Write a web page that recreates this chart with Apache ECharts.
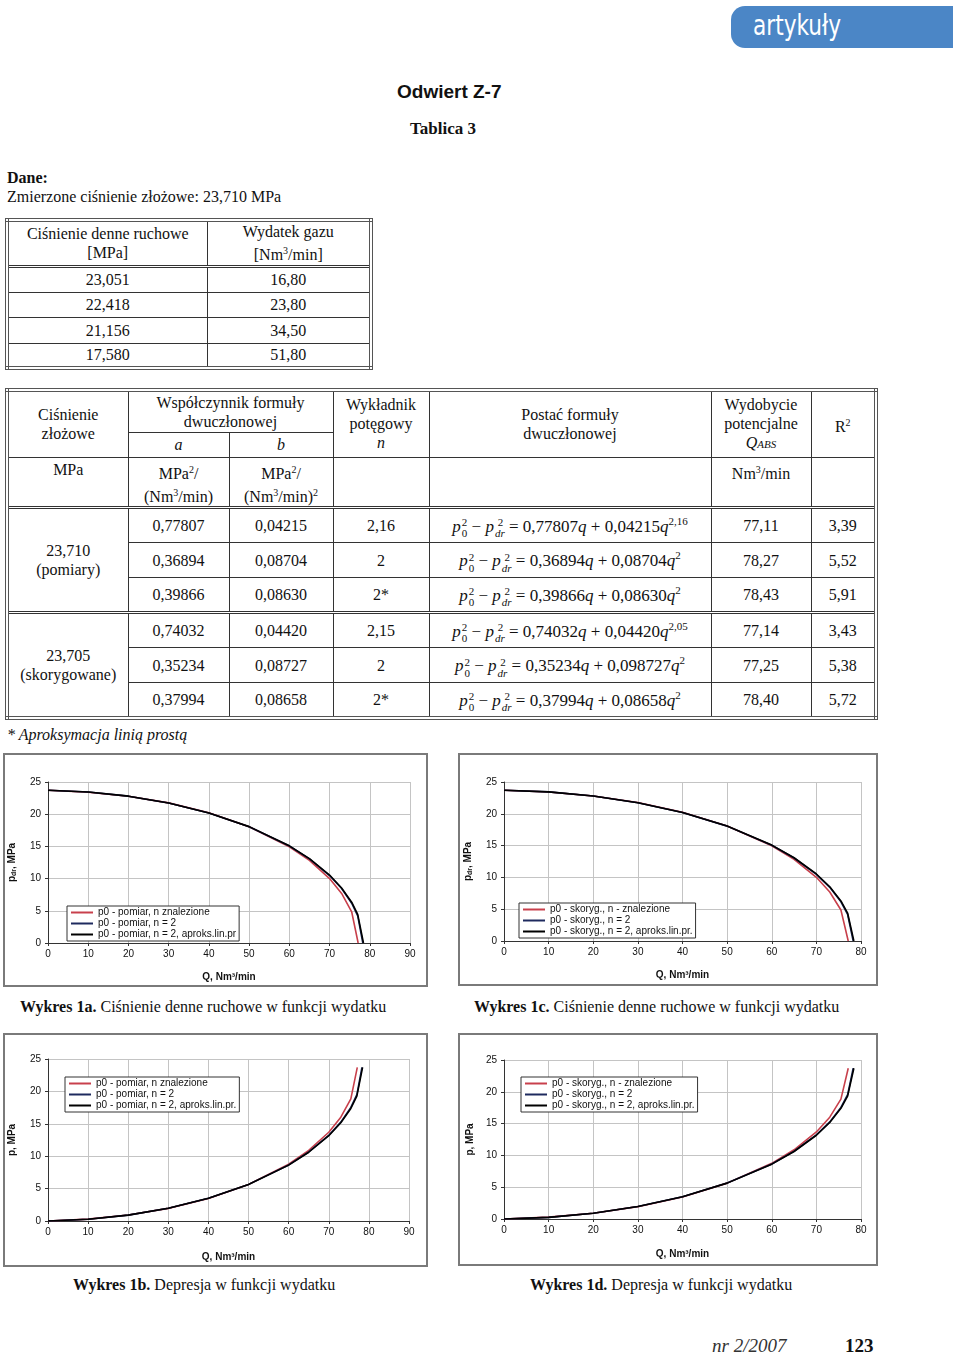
<!DOCTYPE html>
<html>
<head>
<meta charset="utf-8">
<script src="https://cdn.jsdelivr.net/npm/echarts@6/dist/echarts.min.js"></script>
<style>
html,body{margin:0;padding:0;background:#fff;}
body{width:960px;height:1358px;position:relative;overflow:hidden;font-family:'Liberation Serif','Times New Roman',serif;color:#111;}
.abs{position:absolute;}
#tab{left:731px;top:6px;width:200px;height:42px;padding-left:22px;background:#4b86c6;border-radius:14px 0 0 14px;color:#fff;font-family:'Liberation Sans Narrow','DejaVu Sans Condensed','Liberation Sans',sans-serif;font-size:28px;line-height:40px;overflow:hidden;}
#tab span{display:inline-block;transform:scaleX(0.86);transform-origin:left center;font-weight:normal;}
#title{left:397px;top:81px;font-family:'Liberation Sans',Arial,sans-serif;font-weight:bold;font-size:19px;}
#tabl{left:410px;top:119px;font-weight:bold;font-size:17px;}
#dane{left:7px;top:169px;font-weight:bold;font-size:16px;}
#zm{left:7px;top:188px;font-size:16px;}
table{border-collapse:collapse;table-layout:fixed;font-size:16px;color:#111;}
td{border:1px solid #333;text-align:center;padding:0;line-height:19px;}
#t1{left:5px;top:218px;width:364px;border:4px double #555;}
#t2{left:5px;top:388px;width:869px;border:4px double #555;}
tr.sep td{border-top:3px double #333;}
.ss{display:inline-block;vertical-align:-6px;font-size:11px;line-height:11px;text-align:left;margin-left:1px;}
.ss span{display:block;}
.f{font-size:17px;}
#aprox{left:7px;top:726px;font-style:italic;font-size:16px;}
.cap{font-size:16px;}
.chart{position:absolute;}
#foot1{left:712px;top:1335px;font-style:italic;font-size:19px;color:#333;}
#foot2{left:845px;top:1335px;font-weight:bold;font-size:19px;}
</style>
</head>
<body>
<div id="tab" class="abs"><span>artykuły</span></div>
<div id="title" class="abs">Odwiert Z-7</div>
<div id="tabl" class="abs">Tablica 3</div>
<div id="dane" class="abs">Dane:</div>
<div id="zm" class="abs">Zmierzone ciśnienie złożowe: 23,710 MPa</div>

<table id="t1" class="abs">
<colgroup><col style="width:200px"><col style="width:164px"></colgroup>
<tr style="height:46px"><td>Ciśnienie denne ruchowe<br>[MPa]</td><td>Wydatek gazu<br>[Nm<sup style="font-size:10px">3</sup>/min]</td></tr>
<tr class="sep" style="height:26px"><td>23,051</td><td>16,80</td></tr>
<tr style="height:25px"><td>22,418</td><td>23,80</td></tr>
<tr style="height:26px"><td>21,156</td><td>34,50</td></tr>
<tr style="height:25px"><td>17,580</td><td>51,80</td></tr>
</table>

<table id="t2" class="abs">
<colgroup><col style="width:121px"><col style="width:101px"><col style="width:104px"><col style="width:96px"><col style="width:282px"><col style="width:100px"><col style="width:65px"></colgroup>
<tr style="height:42px">
<td rowspan="2">Ciśnienie<br>złożowe</td>
<td colspan="2">Współczynnik formuły<br>dwuczłonowej</td>
<td rowspan="2" style="vertical-align:top;padding-top:3px">Wykładnik<br>potęgowy<br><i>n</i></td>
<td rowspan="2">Postać formuły<br>dwuczłonowej</td>
<td rowspan="2" style="vertical-align:top;padding-top:3px">Wydobycie<br>potencjalne<br><i>Q<span style="font-size:11px">ABS</span></i></td>
<td rowspan="2">R<sup style="font-size:10px">2</sup></td>
</tr>
<tr style="height:25px"><td><i>a</i></td><td><i>b</i></td></tr>
<tr style="height:41px">
<td style="vertical-align:top;padding-top:2px">MPa</td>
<td style="vertical-align:top;padding-top:2px">MPa<sup style="font-size:10px">2</sup>/<br>(Nm<sup style="font-size:10px">3</sup>/min)</td>
<td style="vertical-align:top;padding-top:2px">MPa<sup style="font-size:10px">2</sup>/<br>(Nm<sup style="font-size:10px">3</sup>/min)<sup style="font-size:10px">2</sup></td>
<td></td><td></td>
<td style="vertical-align:top;padding-top:2px">Nm<sup style="font-size:10px">3</sup>/min</td>
<td></td>
</tr>
<tr class="sep" style="height:35px"><td rowspan="3">23,710<br>(pomiary)</td><td>0,77807</td><td>0,04215</td><td>2,16</td>
<td class="f"><i>p</i><span class="ss"><span>2</span><span>0</span></span> − <i>p</i><span class="ss"><span>&nbsp;2</span><span><i>dr</i></span></span> = 0,77807<i>q</i> + 0,04215<i>q</i><sup style="font-size:11px">2,16</sup></td><td>77,11</td><td>3,39</td></tr>
<tr style="height:35px"><td>0,36894</td><td>0,08704</td><td>2</td>
<td class="f"><i>p</i><span class="ss"><span>2</span><span>0</span></span> − <i>p</i><span class="ss"><span>&nbsp;2</span><span><i>dr</i></span></span> = 0,36894<i>q</i> + 0,08704<i>q</i><sup style="font-size:11px">2</sup></td><td>78,27</td><td>5,52</td></tr>
<tr style="height:35px"><td>0,39866</td><td>0,08630</td><td>2*</td>
<td class="f"><i>p</i><span class="ss"><span>2</span><span>0</span></span> − <i>p</i><span class="ss"><span>&nbsp;2</span><span><i>dr</i></span></span> = 0,39866<i>q</i> + 0,08630<i>q</i><sup style="font-size:11px">2</sup></td><td>78,43</td><td>5,91</td></tr>
<tr class="sep" style="height:35px"><td rowspan="3">23,705<br>(skorygowane)</td><td>0,74032</td><td>0,04420</td><td>2,15</td>
<td class="f"><i>p</i><span class="ss"><span>2</span><span>0</span></span> − <i>p</i><span class="ss"><span>&nbsp;2</span><span><i>dr</i></span></span> = 0,74032<i>q</i> + 0,04420<i>q</i><sup style="font-size:11px">2,05</sup></td><td>77,14</td><td>3,43</td></tr>
<tr style="height:35px"><td>0,35234</td><td>0,08727</td><td>2</td>
<td class="f"><i>p</i><span class="ss"><span>2</span><span>0</span></span> − <i>p</i><span class="ss"><span>&nbsp;2</span><span><i>dr</i></span></span> = 0,35234<i>q</i> + 0,098727<i>q</i><sup style="font-size:11px">2</sup></td><td>77,25</td><td>5,38</td></tr>
<tr style="height:35px"><td>0,37994</td><td>0,08658</td><td>2*</td>
<td class="f"><i>p</i><span class="ss"><span>2</span><span>0</span></span> − <i>p</i><span class="ss"><span>&nbsp;2</span><span><i>dr</i></span></span> = 0,37994<i>q</i> + 0,08658<i>q</i><sup style="font-size:11px">2</sup></td><td>78,40</td><td>5,72</td></tr>
</table>

<div id="aprox" class="abs">* Aproksymacja linią prostą</div>

<div id="c1a" class="chart" style="left:3px;top:753px;width:425px;height:234px"></div>
<div id="c1c" class="chart" style="left:458px;top:753px;width:420px;height:233px"></div>
<div id="c1b" class="chart" style="left:3px;top:1033px;width:425px;height:234px"></div>
<div id="c1d" class="chart" style="left:458px;top:1033px;width:420px;height:233px"></div>

<div class="abs cap" style="left:20px;top:998px"><b>Wykres 1a.</b> Ciśnienie denne ruchowe w funkcji wydatku</div>
<div class="abs cap" style="left:474px;top:998px"><b>Wykres 1c.</b> Ciśnienie denne ruchowe w funkcji wydatku</div>
<div class="abs cap" style="left:73px;top:1276px"><b>Wykres 1b.</b> Depresja w funkcji wydatku</div>
<div class="abs cap" style="left:530px;top:1276px"><b>Wykres 1d.</b> Depresja w funkcji wydatku</div>

<div id="foot1" class="abs">nr 2/2007</div>
<div id="foot2" class="abs">123</div>

<script>
// ---- Data ----
// Wykres 1a: p_dr vs Q (pomiar)
const q1aRed   = [0, 10, 20, 30, 40, 50, 60, 65, 70, 73, 75.5, 77.11];
const pdr1aRed = [23.71, 23.42, 22.79, 21.76, 20.23, 18.06, 14.95, 12.82, 10.01, 7.69, 4.85, 0];
const q1aBlue   = [0, 10, 20, 30, 40, 50, 60, 65, 70, 73, 75.5, 77, 78.27];
const pdr1aBlue = [23.71, 23.45, 22.80, 21.74, 20.20, 18.06, 15.06, 13.06, 10.48, 8.45, 6.18, 4.21, 0];
const q1aBlack   = [0, 10, 20, 30, 40, 50, 60, 65, 70, 73, 75.5, 77, 78.43];
const pdr1aBlack = [23.71, 23.44, 22.80, 21.74, 20.20, 18.07, 15.09, 13.10, 10.55, 8.55, 6.34, 4.45, 0];

// Wykres 1b: depresja vs Q (pomiar)
const q1bRed  = [0, 10, 20, 30, 40, 50, 60, 65, 70, 73, 75.5, 77.11];
const p1bRed  = [0, 0.29, 0.92, 1.95, 3.48, 5.65, 8.76, 10.89, 13.70, 16.02, 18.86, 23.71];
const q1bBlue = [0, 10, 20, 30, 40, 50, 60, 65, 70, 73, 75.5, 77, 78.27];
const p1bBlue = [0, 0.26, 0.91, 1.97, 3.51, 5.65, 8.65, 10.65, 13.23, 15.26, 17.53, 19.50, 23.71];
const q1bBlack = [0, 10, 20, 30, 40, 50, 60, 65, 70, 73, 75.5, 77, 78.43];
const p1bBlack = [0, 0.27, 0.91, 1.97, 3.51, 5.64, 8.62, 10.61, 13.16, 15.16, 17.37, 19.26, 23.71];

// Wykres 1c: p_dr vs Q (skorygowane)
const q1cRed   = [0, 10, 20, 30, 40, 50, 60, 65, 70, 73, 75.5, 77.14];
const pdr1cRed = [23.705, 23.42, 22.80, 21.77, 20.24, 18.07, 14.96, 12.83, 10.02, 7.70, 4.87, 0];
const q1cBlue   = [0, 10, 20, 30, 40, 50, 60, 65, 70, 73, 75.5, 77, 78.25];
const pdr1cBlue = [23.705, 23.45, 22.80, 21.74, 20.20, 18.06, 15.05, 13.05, 10.47, 8.44, 6.15, 4.17, 0];
const q1cBlack   = [0, 10, 20, 30, 40, 50, 60, 65, 70, 73, 75.5, 77, 78.40];
const pdr1cBlack = [23.705, 23.44, 22.80, 21.74, 20.20, 18.07, 15.08, 13.09, 10.54, 8.53, 6.30, 4.40, 0];

// Wykres 1d: depresja vs Q (skorygowane)
const q1dRed  = [0, 10, 20, 30, 40, 50, 60, 65, 70, 73, 75.5, 77.14];
const p1dRed  = [0, 0.29, 0.91, 1.94, 3.47, 5.64, 8.75, 10.88, 13.69, 16.01, 18.84, 23.71];
const q1dBlue = [0, 10, 20, 30, 40, 50, 60, 65, 70, 73, 75.5, 77, 78.25];
const p1dBlue = [0, 0.26, 0.90, 1.96, 3.50, 5.65, 8.65, 10.65, 13.23, 15.27, 17.55, 19.54, 23.71];
const q1dBlack = [0, 10, 20, 30, 40, 50, 60, 65, 70, 73, 75.5, 77, 78.40];
const p1dBlack = [0, 0.26, 0.91, 1.97, 3.50, 5.64, 8.62, 10.61, 13.17, 15.17, 17.40, 19.31, 23.71];

const legendPomiarA = ['p0 - pomiar, n znalezione', 'p0 - pomiar, n = 2', 'p0 - pomiar, n = 2, aproks.lin.pr'];
const legendPomiarB = ['p0 - pomiar, n znalezione', 'p0 - pomiar, n = 2', 'p0 - pomiar, n = 2, aproks.lin.pr.'];
const legendSkoryg  = ['p0 - skoryg., n - znalezione', 'p0 - skoryg., n = 2', 'p0 - skoryg., n = 2, aproks.lin.pr.'];
const yTicks = [0, 5, 10, 15, 20, 25];

// ---- Rendering ----
const FONT = "'Liberation Sans', Arial, sans-serif";
const COLORS = ['#c8404c', '#1e2a5e', '#000000'];
function zip(xs, ys) { return xs.map((x, i) => [x, ys[i]]); }

function makeChart(id, cfg) {
  const el = document.getElementById(id);
  const ch = echarts.init(el, null, { renderer: 'canvas' });
  const w = el.clientWidth, h = el.clientHeight;
  ch.setOption({
    animation: false,
    textStyle: { fontFamily: FONT },
    graphic: [{ type: 'rect', shape: { x: 1, y: 1, width: w - 2, height: h - 2 }, style: { fill: 'none', stroke: '#7a7a7a', lineWidth: 2 }, silent: true, z: 0 }],
    grid: Object.assign({ outerBoundsMode: 'none', containLabel: false }, cfg.grid),
    legend: {
      show: true,
      data: cfg.legend.map(n => ({ name: n, icon: 'rect' })), orient: 'vertical', left: cfg.legendPos.left, top: cfg.legendPos.top,
      itemWidth: 22, itemHeight: 2, itemGap: 0, padding: [1, 3, 1, 4],
      backgroundColor: '#fff', borderColor: '#333', borderWidth: 1, borderRadius: 0,
      textStyle: { fontFamily: FONT, fontSize: 10, color: '#111', lineHeight: 11 },
      z: 10
    },
    xAxis: {
      type: 'value', min: 0, max: cfg.xMax, interval: 10,
      name: 'Q, Nm³/min', nameLocation: 'middle', nameGap: cfg.xNameGap,
      nameTextStyle: { fontFamily: FONT, fontSize: 10, fontWeight: 'bold', color: '#111' },
      axisLine: { lineStyle: { color: '#333', width: 1 } },
      axisTick: { show: true, length: 3, lineStyle: { color: '#333' } },
      axisLabel: { fontFamily: FONT, fontSize: 10, color: '#111', margin: 6 },
      splitLine: { show: true, lineStyle: { color: '#c4c4c4', width: 1 } }
    },
    yAxis: {
      type: 'value', min: yTicks[0], max: yTicks[yTicks.length - 1], interval: yTicks[1] - yTicks[0],
      name: cfg.yName, nameLocation: 'middle', nameGap: cfg.yNameGap, nameRotate: 90,
      nameTextStyle: {
        fontFamily: FONT, fontSize: 10, fontWeight: 'bold', color: '#111',
        rich: {
          b: { fontFamily: FONT, fontSize: 10, fontWeight: 'bold', color: '#111', lineHeight: 14 },
          s: { fontFamily: FONT, fontSize: 7, fontWeight: 'bold', color: '#111', lineHeight: 14, padding: [5, 0, 0, 0] }
        }
      },
      axisLine: { show: true, lineStyle: { color: '#333', width: 1 } },
      axisTick: { show: true, length: 3, lineStyle: { color: '#333' } },
      axisLabel: { fontFamily: FONT, fontSize: 10, color: '#111', margin: 7 },
      splitLine: { show: true, lineStyle: { color: '#c4c4c4', width: 1 } }
    },
    series: cfg.series.map((s, i) => ({
      name: cfg.legend[i], type: 'line', data: zip(s[0], s[1]),
      symbol: 'none', showSymbol: false, smooth: false,
      lineStyle: { color: COLORS[i], width: 1.6 }, itemStyle: { color: COLORS[i] }, z: 2 + i
    }))
  });
}

makeChart('c1a', {
  xMax: 90, yName: '{b|p}{s|dr}{b|, MPa}', legend: legendPomiarA, yNameGap: 29, xNameGap: 29,
  grid: { left: 45, top: 29, width: 362, height: 161 },
  legendPos: { left: 64, top: 153 },
  series: [[q1aRed, pdr1aRed], [q1aBlue, pdr1aBlue], [q1aBlack, pdr1aBlack]]
});
makeChart('c1c', {
  xMax: 80, yName: '{b|p}{s|dr}{b|, MPa}', legend: legendSkoryg, yNameGap: 29, xNameGap: 29,
  grid: { left: 46, top: 29, width: 357, height: 159 },
  legendPos: { left: 61, top: 150 },
  series: [[q1cRed, pdr1cRed], [q1cBlue, pdr1cBlue], [q1cBlack, pdr1cBlack]]
});
makeChart('c1b', {
  xMax: 90, yName: '{b|p, MPa}', legend: legendPomiarB, yNameGap: 29, xNameGap: 31,
  grid: { left: 45, top: 26, width: 361, height: 162 },
  legendPos: { left: 62, top: 44 },
  series: [[q1bRed, p1bRed], [q1bBlue, p1bBlue], [q1bBlack, p1bBlack]]
});
makeChart('c1d', {
  xMax: 80, yName: '{b|p, MPa}', legend: legendSkoryg, yNameGap: 18, xNameGap: 30,
  grid: { left: 46, top: 27, width: 357, height: 159 },
  legendPos: { left: 63, top: 44 },
  series: [[q1dRed, p1dRed], [q1dBlue, p1dBlue], [q1dBlack, p1dBlack]]
});
</script>
</body>
</html>
